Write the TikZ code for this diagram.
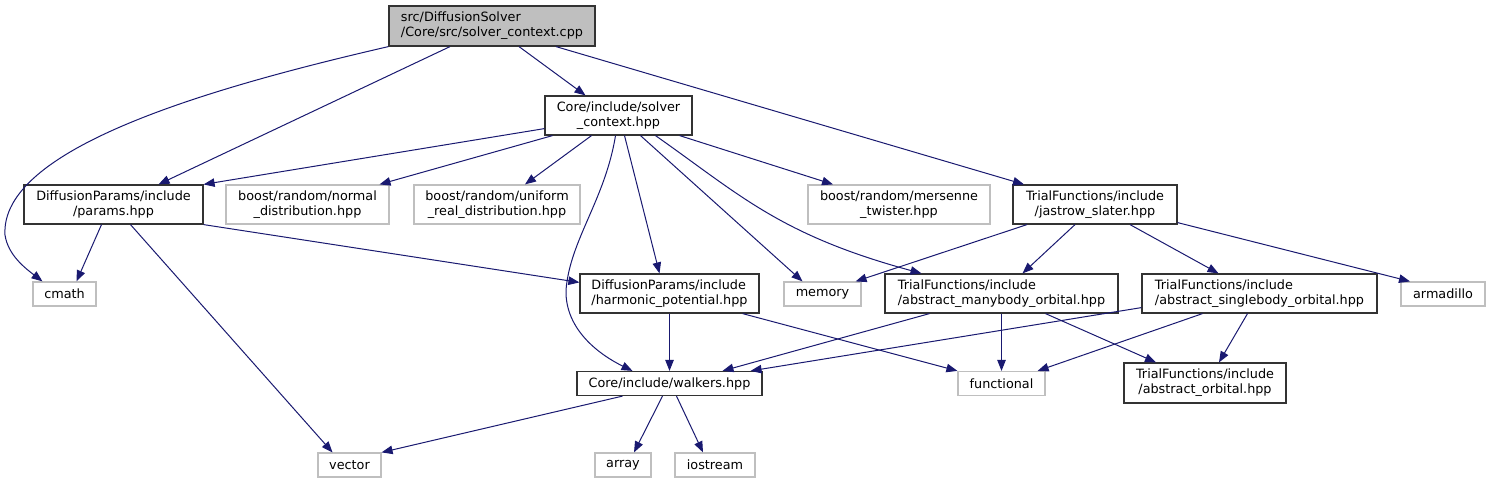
\documentclass[tikz,border=0pt]{standalone}
\usepackage{fontspec}
\setmainfont{DejaVu Sans}
\usetikzlibrary{arrows.meta}
\definecolor{edgeblue}{HTML}{191970}
\definecolor{sysgray}{HTML}{BFBFBF}

\begin{document}
\begin{tikzpicture}[x=1pt,y=-1pt,
  file/.style={draw=black!80, line width=1.2pt, inner sep=0pt, align=center,
    font=\fontsize{12.8}{15}\selectfont, minimum height=39},
  sys/.style={file, draw=sysgray, minimum height=24},
  rootfile/.style={file, fill=sysgray, align=left, minimum height=40},
  inc/.style={draw=edgeblue, line width=1pt, -{Triangle[length=11pt,width=8.5pt]}}]
\useasboundingbox (0,0) rectangle (1490,484);

% files
\node[rootfile, minimum width=206] (root) at (492,26) {src/DiffusionSolver\\/Core/src/solver\_context.cpp};
\node[file, minimum width=147] (ctx) at (618.5,115.5) {Core/include/solver\\\_context.hpp};
\node[file, minimum width=179] (params) at (113.5,204.5) {DiffusionParams/include\\/params.hpp};
\node[sys, minimum width=163, minimum height=39] (normal) at (307.5,204.5) {boost/random/normal\\\_distribution.hpp};
\node[sys, minimum width=166, minimum height=39] (uniform) at (497,204.5) {boost/random/uniform\\\_real\_distribution.hpp};
\node[sys, minimum width=182, minimum height=39] (mersenne) at (899,204.5) {boost/random/mersenne\\\_twister.hpp};
\node[file, minimum width=164] (jastrow) at (1095,204.5) {TrialFunctions/include\\/jastrow\_slater.hpp};
\node[sys, minimum width=63] (cmath) at (64.5,294) {cmath};
\node[file, minimum width=179, align=left] (harmonic) at (669.5,293.5) {DiffusionParams/include\\/harmonic\_potential.hpp};
\node[sys, minimum width=77] (memory) at (822.5,294) {memory};
\node[file, minimum width=233, align=left] (manybody) at (1001.5,293.5) {TrialFunctions/include\\/abstract\_manybody\_orbital.hpp};
\node[file, minimum width=235, align=left] (singlebody) at (1259.5,293.5) {TrialFunctions/include\\/abstract\_singlebody\_orbital.hpp};
\node[sys, minimum width=84] (armadillo) at (1443,294) {armadillo};
\node[file, minimum width=185, minimum height=24] (walkers) at (669.5,383.5) {Core/include/walkers.hpp};
\node[sys, minimum width=87] (functional) at (1001.5,383.5) {functional};
\node[file, minimum width=162, minimum height=40] (orbital) at (1205,383) {TrialFunctions/include\\/abstract\_orbital.hpp};
\node[sys, minimum width=63] (vector) at (349.5,465) {vector};
\node[sys, minimum width=56] (array) at (623,465) {array};
\node[sys, minimum width=80] (iostream) at (715,465) {iostream};

% includes of the source file
\draw[inc] (root.south west) .. controls (200,90) and (0,150) .. (5,235)
  .. controls (8,255) and (25,268) .. ([xshift=-22]cmath.north);
\draw[inc] ([xshift=-42]root.south) -- ([xshift=45]params.north);
\draw[inc] ([xshift=27]root.south) -- ([xshift=-33]ctx.north);
\draw[inc] ([xshift=64]root.south) -- ([xshift=-71]jastrow.north);

% solver_context.hpp
\draw[inc] ([yshift=7]ctx.south west) -- (params.north east);
\draw[inc] ([xshift=-66]ctx.south) -- ([xshift=72]normal.north);
\draw[inc] ([xshift=-27]ctx.south) -- ([xshift=28]uniform.north);
\draw[inc] ([xshift=-3]ctx.south) .. controls (605,200) and (570,240) .. (566,290)
  .. controls (565,330) and (600,355) .. ([xshift=-37]walkers.north);
\draw[inc] ([xshift=6]ctx.south) -- ([xshift=-10]harmonic.north);
\draw[inc] ([xshift=22]ctx.south) -- ([xshift=-20]memory.north);
\draw[inc] ([xshift=37]ctx.south) .. controls (740,195) and (780,235) .. ([xshift=-80]manybody.north);
\draw[inc] ([xshift=-13]ctx.south east) -- ([xshift=-66]mersenne.north);

% params.hpp
\draw[inc] ([xshift=-12]params.south) -- ([xshift=12]cmath.north);
\draw[inc] ([xshift=17]params.south) -- ([xshift=-17]vector.north);
\draw[inc] (params.south east) -- ([yshift=-9]harmonic.north west);

% jastrow_slater.hpp
\draw[inc] ([xshift=-68]jastrow.south) -- ([xshift=-6]memory.north east);
\draw[inc] ([xshift=-20]jastrow.south) -- ([xshift=21]manybody.north);
\draw[inc] ([xshift=35]jastrow.south) -- ([xshift=-41]singlebody.north);
\draw[inc] ([yshift=2]jastrow.south east) -- ([xshift=-33]armadillo.north);

% second row
\draw[inc] (harmonic.south) -- (walkers.north);
\draw[inc] ([xshift=-17]harmonic.south east) -- (functional.north west);
\draw[inc] ([xshift=-72]manybody.south) -- ([xshift=53]walkers.north);
\draw[inc] (manybody.south) -- (functional.north);
\draw[inc] ([xshift=44]manybody.south) -- ([xshift=-49]orbital.north);
\draw[inc] ([yshift=6]singlebody.south west) -- ([xshift=-12]walkers.north east);
\draw[inc] ([xshift=-57]singlebody.south) -- ([xshift=-8]functional.north east);
\draw[inc] ([xshift=-12]singlebody.south) -- ([xshift=14]orbital.north);

% walkers.hpp
\draw[inc] ([xshift=-47]walkers.south) -- (vector.north east);
\draw[inc] ([xshift=-7]walkers.south) -- ([xshift=11]array.north);
\draw[inc] ([xshift=7]walkers.south) -- ([xshift=-12]iostream.north);
\end{tikzpicture}
\end{document}
